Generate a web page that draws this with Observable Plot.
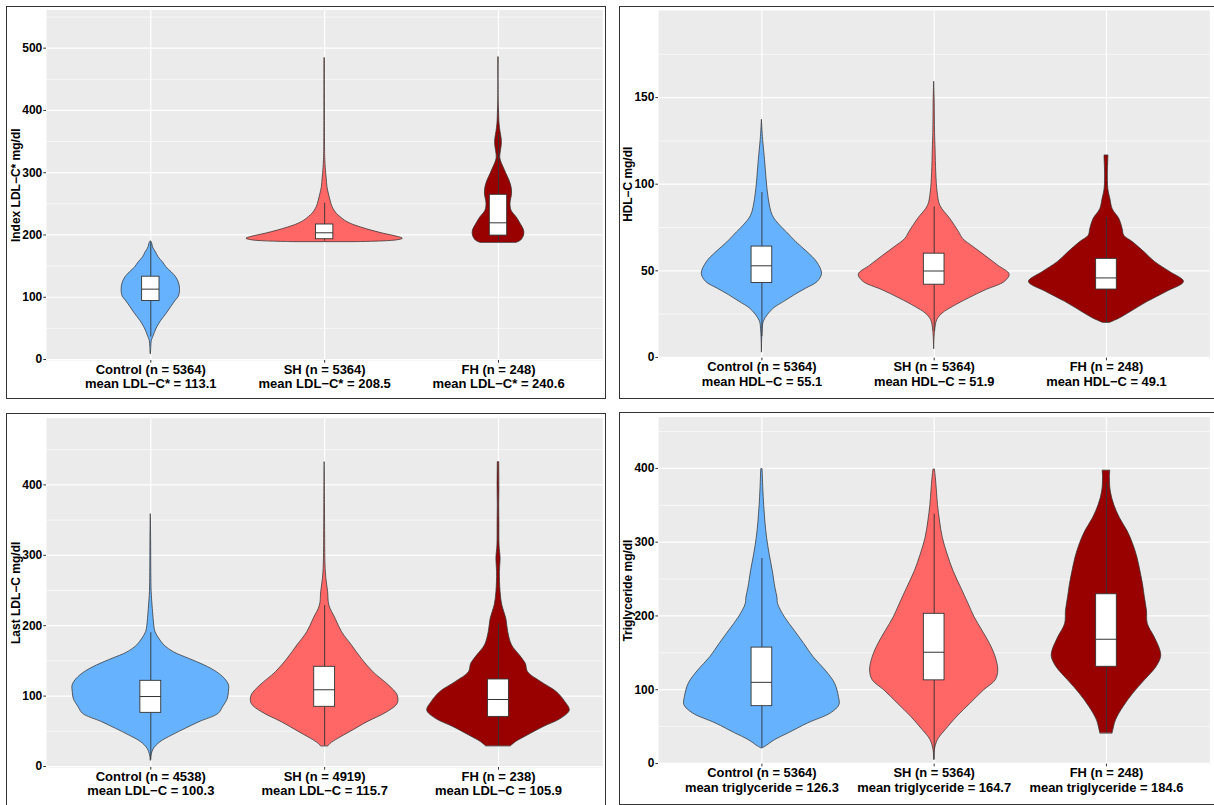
<!DOCTYPE html>
<html><head><meta charset="utf-8">
<script src="https://cdn.jsdelivr.net/npm/d3@7"></script>
<script src="https://cdn.jsdelivr.net/npm/@observablehq/plot@0.6"></script>
<style>
html,body{margin:0;padding:0;background:#fff;width:1214px;height:805px;overflow:hidden;position:relative;}
.panel{position:absolute;}
.border{position:absolute;border:1.2px solid #333;box-sizing:border-box;pointer-events:none;}
svg{display:block;}
</style></head><body>
<script>
// ---------------- data ----------------
const groups = ["Control", "SH", "FH"];
const groupColors = ["#66B2FF", "#FF6666", "#990000"];

// sample sizes and means per panel
const nIndexLDL = [5364, 5364, 248];
const meanIndexLDL = ["113.1", "208.5", "240.6"];
const nHDL = [5364, 5364, 248];
const meanHDL = ["55.1", "51.9", "49.1"];
const nLastLDL = [4538, 4919, 238];
const meanLastLDL = ["100.3", "115.7", "105.9"];
const nTG = [5364, 5364, 248];
const meanTG = ["126.3", "164.7", "184.6"];

// violin profiles: [value, half-width in category units]
const indexLDLControl = [[9,0.001],[20,0.003],[30,0.006],[36,0.014],[44,0.025],[52,0.038],[62,0.06],[73.4,0.091],[84,0.117],[94.7,0.144],[100,0.16],[107,0.167],[113,0.168],[122,0.163],[132,0.146],[140,0.12],[148,0.09],[156,0.07],[164,0.045],[172,0.03],[180,0.013],[186,0.008],[190,0]];
const indexLDLSH = [[188.5,0.18],[190,0.36],[192,0.43],[194,0.45],[197,0.42],[202,0.34],[207,0.27],[212,0.21],[218,0.15],[223,0.117],[229,0.09],[234,0.07],[245,0.045],[255,0.034],[265,0.025],[277,0.016],[290,0.012],[298,0.009],[320,0.004],[350,0.002],[484,0.0015]];
const indexLDLFH = [[187.4,0.105],[191,0.13],[199,0.147],[207,0.147],[218,0.127],[228.5,0.104],[239,0.075],[250,0.069],[266,0.078],[276.7,0.075],[287.5,0.063],[298,0.046],[308.8,0.029],[318,0.015],[325,0.01],[335,0.014],[345,0.019],[355,0.018],[365,0.012],[378.5,0.006],[400,0.003],[416,0.001],[485.5,0.001]];

const hdlControl = [[3,0],[15,0.004],[20.6,0.011],[24.4,0.034],[28.3,0.07],[32.1,0.13],[35.9,0.19],[39.7,0.257],[43.6,0.324],[48.3,0.349],[55,0.32],[60.8,0.264],[66.5,0.2],[72.2,0.145],[76,0.107],[81.8,0.063],[91.3,0.04],[102.8,0.027],[114,0.018],[125.6,0.007],[137.2,0]];
const hdlSH = [[4.9,0],[14.9,0.005],[21.6,0.018],[25.4,0.05],[29.2,0.11],[34,0.2],[38.8,0.3],[43.6,0.41],[47.8,0.438],[53.1,0.37],[58.8,0.295],[63.6,0.23],[68.4,0.168],[72.2,0.145],[79.9,0.094],[87.5,0.036],[95.2,0.02],[106.6,0.012],[120,0.008],[129.6,0.005],[148.7,0.003],[159.2,0]];
const hdlFH = [[20,0.021],[22.5,0.077],[26.4,0.144],[32.1,0.24],[37.8,0.35],[43.6,0.45],[49.3,0.37],[55,0.283],[60.8,0.22],[66.5,0.154],[70.3,0.103],[74.1,0.094],[79.9,0.075],[85.6,0.036],[91.3,0.023],[97,0.011],[106.7,0.008],[112.4,0.01],[116.6,0.0115]];

const lastLDLControl = [[8.5,0],[15.6,0.004],[25,0.018],[34.6,0.056],[44,0.123],[53.5,0.2],[63,0.28],[74.8,0.39],[84,0.415],[96,0.443],[105.6,0.449],[115,0.45],[124.5,0.426],[134,0.38],[143.5,0.31],[153,0.22],[162,0.135],[172,0.078],[181,0.05],[190.8,0.027],[200,0.02],[219,0.013],[228.7,0.01],[247.6,0.005],[276,0.003],[323,0.002],[358.4,0]];
const lastLDLSH = [[28.9,0.022],[32.2,0.034],[39.3,0.078],[48.8,0.146],[63,0.247],[77,0.36],[89,0.42],[100.8,0.42],[115,0.37],[134,0.28],[153,0.213],[171.9,0.157],[190.8,0.1],[209.8,0.063],[228.7,0.027],[247.6,0.02],[266.6,0.01],[285.5,0.005],[323,0.003],[370.7,0.002],[432.3,0]];
const lastLDLFH = [[28.9,0.072],[34.6,0.1],[44,0.168],[55.9,0.258],[67.7,0.36],[79.5,0.41],[91.4,0.385],[105.6,0.336],[119.8,0.247],[134,0.17],[145.8,0.157],[157.7,0.123],[172,0.078],[190.8,0.056],[209.8,0.045],[228.7,0.022],[247.6,0.012],[276,0.008],[295,0.012],[314,0.006],[347,0.005],[370.7,0.004],[394.4,0.005],[432.3,0.004]];

const tgControl = [[20.7,0.005],[22.9,0.022],[31.9,0.078],[40.9,0.156],[54.3,0.268],[67.8,0.4],[79,0.45],[90,0.447],[108,0.425],[126,0.37],[144,0.3],[162,0.246],[180,0.19],[198,0.134],[216,0.094],[225,0.09],[238.4,0.078],[260.8,0.063],[283.3,0.045],[305.7,0.03],[328,0.02],[350.6,0.013],[373,0.008],[399,0.004]];
const tgSH = [[4.9,0],[18.4,0.004],[31.9,0.022],[45.3,0.067],[63.3,0.134],[81.3,0.212],[99.2,0.29],[112.7,0.357],[126,0.372],[144,0.357],[162,0.324],[180,0.28],[198,0.235],[216,0.2],[238.4,0.156],[260.8,0.112],[283.3,0.078],[305.7,0.05],[328,0.034],[350.6,0.022],[368.6,0.016],[386.5,0.01],[398.6,0.004]];
const tgFH = [[40.9,0.036],[58.8,0.056],[76.8,0.1],[94.7,0.156],[112.7,0.223],[130.6,0.29],[144,0.317],[153,0.313],[171,0.28],[189,0.24],[207,0.235],[224.9,0.223],[242.9,0.212],[260.8,0.197],[278.8,0.18],[296.7,0.156],[314.7,0.123],[332.7,0.078],[350.6,0.045],[368.6,0.025],[386.5,0.02],[397,0.022]];

// box plot statistics per group: [whisker low, Q1, median, Q3, whisker high]
const indexLDLBox = [[36,94,113,133,189],[190,193.2,203.5,216.8,251],[190,199,219.5,264.5,362]];
const hdlBox = [[12,43,52.9,64,95.2],[15,42,49.9,59.9,86.9],[20,39.2,45.9,56.9,80.8]];
const lastLDLBox = [[9,76.2,99.4,121.7,190],[29,84.8,109,141.6,228.7],[29,70.5,95.2,123.6,202.7]];
const tgBox = [[20.7,77.7,110,157.1,277.9],[5,112.7,150.8,202.9,338],[41,131.1,168.4,229.4,380]];

// axis ticks
const ticksIndexLDL = [0,100,200,300,400,500];
const minorIndexLDL = [50,150,250,350,450,550];
const ticksHDL = [0,50,100,150];
const minorHDL = [25,75,125,175];
const ticksLastLDL = [0,100,200,300,400];
const minorLastLDL = [50,150,250,350,450];
const ticksTG = [0,100,200,300,400];
const minorTG = [50,150,250,350,450];

// ---------------- layout ----------------
const FONT = "'Liberation Sans', Arial, Helvetica, sans-serif";
const panels = [
  {left:7, top:7, width:599, height:392, ml:39, mt:2.5, mr:3.7, mb:39, domain:[-1.6,561.3], bw:0.05,
   ticks:ticksIndexLDL, minor:minorIndexLDL, title:"Index LDL−C* mg/dl",
   labels: groups.map((g,i)=>`${g} (n = ${nIndexLDL[i]})\nmean LDL−C* = ${meanIndexLDL[i]}`),
   violins:[indexLDLControl,indexLDLSH,indexLDLFH], box:indexLDLBox},
  {left:620, top:7, width:598, height:392, ml:38.3, mt:3, mr:4.7, mb:39, domain:[-0.4,200.3], bw:0.06,
   ticks:ticksHDL, minor:minorHDL, title:"HDL−C mg/dl",
   labels: groups.map((g,i)=>`${g} (n = ${nHDL[i]})\nmean HDL−C = ${meanHDL[i]}`),
   violins:[hdlControl,hdlSH,hdlFH], box:hdlBox},
  {left:7, top:414, width:599, height:392, ml:39, mt:3.7, mr:3.7, mb:39, domain:[-1.4,494.7], bw:0.06,
   ticks:ticksLastLDL, minor:minorLastLDL, title:"Last LDL−C mg/dl",
   labels: groups.map((g,i)=>`${g} (n = ${nLastLDL[i]})\nmean LDL−C = ${meanLastLDL[i]}`),
   violins:[lastLDLControl,lastLDLSH,lastLDLFH], box:lastLDLBox},
  {left:620, top:413, width:598, height:392, ml:38.3, mt:3.7, mr:4.7, mb:39, domain:[-0.9,469.5], bw:0.06,
   ticks:ticksTG, minor:minorTG, title:"Triglyceride mg/dl",
   labels: groups.map((g,i)=>`${g} (n = ${nTG[i]})\nmean triglyceride = ${meanTG[i]}`),
   violins:[tgControl,tgSH,tgFH], box:tgBox}
];

for (const p of panels) {
  const rows = [];
  p.violins.forEach((prof, i) => {
    const sorted = d3.sort(prof, d => d[0]);
    for (const [v, hw] of sorted) rows.push({g: groups[i], v, x1: i + 1 - hw, x2: i + 1 + hw});
  });
  const boxes = p.box.map((b, i) => ({g: groups[i], x: i + 1, lo: b[0], q1: b[1], med: b[2], q3: b[3], hi: b[4]}));
  const bw = p.bw;
  const chart = Plot.plot({
    width: p.width, height: p.height,
    marginLeft: p.ml, marginTop: p.mt, marginRight: p.mr, marginBottom: p.mb,
    style: {fontFamily: FONT, background: "transparent", color: "black", overflow: "visible"},
    x: {domain: [0.4, 3.6]},
    y: {domain: p.domain},
    color: {domain: groups, range: groupColors},
    marks: [
      Plot.frame({fill: "#EBEBEB", stroke: "none"}),
      Plot.ruleY(p.minor, {stroke: "white", strokeWidth: 0.6}),
      Plot.ruleY(p.ticks, {stroke: "white", strokeWidth: 1.2}),
      Plot.ruleX([1, 2, 3], {stroke: "white", strokeWidth: 1.2}),
      Plot.areaX(rows, {y: "v", x1: "x1", x2: "x2", z: "g", fill: "g", stroke: "#333", strokeWidth: 0.75, curve: "catmull-rom"}),
      Plot.ruleX(boxes, {x: "x", y1: "lo", y2: "q1", stroke: "#333", strokeWidth: 0.9}),
      Plot.ruleX(boxes, {x: "x", y1: "q3", y2: "hi", stroke: "#333", strokeWidth: 0.9}),
      Plot.rect(boxes, {x1: d => d.x - bw, x2: d => d.x + bw, y1: "q1", y2: "q3", fill: "white", stroke: "#333", strokeWidth: 0.9}),
      Plot.ruleY(boxes, {y: "med", x1: d => d.x - bw, x2: d => d.x + bw, stroke: "#333", strokeWidth: 1}),
      Plot.axisY({ticks: p.ticks, tickSize: 2.7, tickPadding: 1.5, fontSize: 12, fontWeight: "bold", label: null, stroke: "#333"}),
      Plot.axisX({ticks: [1, 2, 3], tickFormat: i => p.labels[i - 1], tickSize: 2.7, tickPadding: 0.5, fontSize: 13, fontWeight: "bold", lineHeight: 1.1, label: null, stroke: "#333"}),
      Plot.text([p.title], {frameAnchor: "left", textAnchor: "middle", lineAnchor: "middle", dx: -30.5, rotate: -90, fontSize: 12, fontWeight: "bold", fill: "black"})
    ]
  });
  const wrap = document.createElement("div");
  wrap.className = "panel";
  wrap.style.left = p.left + "px";
  wrap.style.top = p.top + "px";
  wrap.appendChild(chart);
  document.body.appendChild(wrap);
  const b = document.createElement("div");
  b.className = "border";
  b.style.left = (p.left - 0.6) + "px";
  b.style.top = (p.top - 0.6) + "px";
  b.style.width = (p.width + 0.2) + "px";
  b.style.height = (p.height + 0.2) + "px";
  document.body.appendChild(b);
}
</script>
</body></html>
